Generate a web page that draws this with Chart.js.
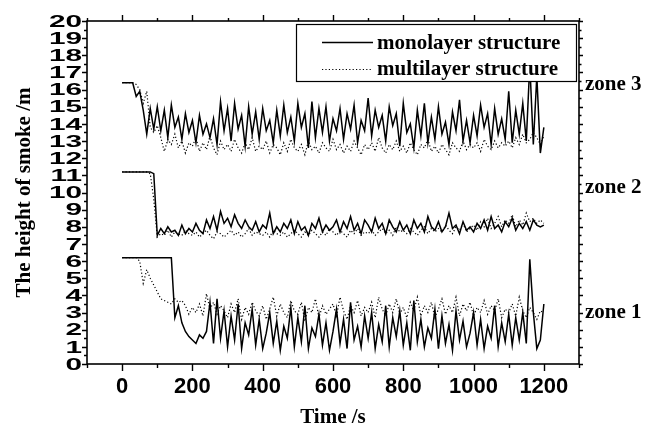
<!DOCTYPE html>
<html>
<head>
<meta charset="utf-8">
<script src="https://cdn.jsdelivr.net/npm/chart.js@4.4.1/dist/chart.umd.min.js"></script>
<style>
  html, body { margin: 0; padding: 0; background: #fff; }
</style>
</head>
<body>
<canvas id="chart" width="658" height="430"></canvas>
<script>
// sample times (s), one row per 100 s
const times = [
  0, 10, 20, 30, 40, 50, 60, 70, 80, 90,
  100, 110, 120, 130, 140, 150, 160, 170, 180, 190,
  200, 210, 220, 230, 240, 250, 260, 270, 280, 290,
  300, 310, 320, 330, 340, 350, 360, 370, 380, 390,
  400, 410, 420, 430, 440, 450, 460, 470, 480, 490,
  500, 510, 520, 530, 540, 550, 560, 570, 580, 590,
  600, 610, 620, 630, 640, 650, 660, 670, 680, 690,
  700, 710, 720, 730, 740, 750, 760, 770, 780, 790,
  800, 810, 820, 830, 840, 850, 860, 870, 880, 890,
  900, 910, 920, 930, 940, 950, 960, 970, 980, 990,
  1000, 1010, 1020, 1030, 1040, 1050, 1060, 1070, 1080, 1090,
  1100, 1110, 1120, 1130, 1140, 1150, 1160, 1170, 1180, 1190,
  1200
];

// zone 3
const z3Mono = [
  16.4, 16.4, 16.4, 16.4, 15.6, 15.9, 14.8, 13.4, 14.9, 13.7,
  15.0, 13.6, 14.8, 13.2, 15.1, 13.8, 14.4, 13.1, 14.6, 13.5,
  14.2, 12.9, 14.5, 13.4, 14.0, 13.2, 14.3, 12.8, 15.3, 13.6,
  14.9, 13.0, 15.2, 13.7, 14.5, 12.7, 15.0, 13.4, 14.7, 13.1,
  14.9, 13.6, 14.2, 12.9, 14.8, 13.3, 15.1, 13.5, 14.4, 13.0,
  15.2, 13.8, 14.6, 12.6, 15.3, 13.2, 14.9, 13.5, 15.0, 13.0,
  14.3, 13.6, 14.9, 13.1, 14.6, 13.7, 15.1, 12.9, 14.2, 13.6,
  15.5, 13.3, 14.8, 13.8, 14.5, 13.0, 15.0, 13.9, 14.6, 12.7,
  15.2, 13.5, 14.0, 12.6, 14.8, 13.3, 15.2, 12.9, 14.4, 13.1,
  15.0, 13.4, 14.1, 12.8, 14.7, 13.6, 15.4, 13.0, 14.2, 12.9,
  14.5, 13.3, 15.1, 13.8, 14.6, 12.8, 14.9, 13.4, 14.3, 13.1,
  15.9, 12.9, 14.8, 13.4, 15.2, 13.0, 17.5, 12.8, 16.8, 12.3,
  13.8
];
const z3Multi = [
  16.4, 16.4, 16.4, 16.4, 16.3, 16.0, 15.2, 15.9, 13.8, 13.5,
  13.9, 13.2, 12.4, 13.1, 12.8, 13.4, 12.6, 13.0, 12.3, 12.9,
  12.7, 13.2, 12.4, 12.9, 12.5, 13.3, 12.6, 12.2, 13.0, 12.5,
  12.8, 12.4, 13.1, 12.6, 12.3, 12.9, 12.5, 13.2, 12.4, 12.7,
  12.5, 13.0, 12.3, 12.8, 12.6, 12.2, 12.9, 12.4, 13.1, 12.6,
  12.4, 12.8, 12.2, 13.0, 12.5, 12.7, 12.3, 12.9, 12.6, 12.4,
  13.1, 12.5, 12.8, 12.3, 12.7, 12.4, 13.0, 12.6, 12.2, 12.8,
  12.5, 12.9, 12.4, 13.2, 12.6, 12.3, 12.8, 12.5, 13.0, 12.4,
  12.7, 12.3, 12.9, 12.5, 12.2, 12.8, 12.6, 13.1, 12.4, 12.7,
  12.3, 12.8, 12.5, 12.2, 12.9, 12.6, 12.4, 13.0, 12.5, 12.8,
  12.6, 12.9, 12.4, 13.1, 12.7, 12.5, 13.0, 12.6, 12.9, 12.7,
  13.0, 12.6, 13.2, 12.8, 13.4, 12.9, 13.1, 13.5, 13.2, 12.8,
  13.3
];

// zone 2
const z2Mono = [
  11.2, 11.2, 11.2, 11.2, 11.2, 11.2, 11.2, 11.2, 11.2, 11.1,
  7.5, 7.9, 7.6, 8.0, 7.7, 7.8, 7.5, 8.1, 7.6, 7.9,
  7.7, 8.2, 7.8, 7.6, 8.4, 7.9, 8.6, 7.8, 8.9, 8.2,
  8.5, 8.0, 8.7, 8.2, 7.9, 8.4, 8.0, 7.8, 8.3, 7.7,
  8.1, 7.9, 8.8, 7.6, 8.0, 7.7, 8.2, 7.9, 8.4, 7.6,
  8.3, 7.8, 8.0, 7.5, 8.2, 7.9, 8.5, 7.7, 8.1, 7.8,
  8.0, 8.4, 7.7, 8.3, 7.9, 8.6, 7.8, 8.2, 7.6, 8.4,
  8.1, 7.7, 8.5, 7.9, 8.2, 7.6, 8.4, 8.0, 7.7, 8.3,
  7.8, 8.1, 7.6, 8.4, 7.9, 8.2, 7.7, 8.6, 8.0, 7.8,
  8.3, 7.7, 8.0, 8.8, 7.9, 8.1, 7.6, 8.3, 7.8, 8.0,
  7.7, 8.2, 7.9, 8.4, 7.8, 8.6, 7.9, 8.1, 7.7, 8.3,
  8.0, 8.5, 7.8, 8.2, 7.9, 8.3, 7.8, 8.4, 8.1, 8.0,
  8.1
];
const z2Multi = [
  11.2, 11.2, 11.2, 11.2, 11.2, 11.2, 11.2, 11.2, 11.1, 9.6,
  7.4, 7.6, 7.5, 7.8, 7.4, 7.7, 7.6, 7.5, 7.8, 7.6,
  7.5, 7.7, 7.4, 7.6, 7.8, 7.5, 7.3, 7.7, 7.6, 7.4,
  7.6, 7.8, 7.5, 7.7, 7.4, 7.6, 7.9, 7.5, 7.7, 7.6,
  7.5, 7.7, 7.4, 7.8, 7.6, 7.5, 7.7, 7.4, 7.6, 7.8,
  7.6, 7.4, 7.7, 7.5, 7.8, 7.6, 7.4, 7.7, 7.5, 7.9,
  7.7, 7.5, 7.8, 7.6, 7.4, 7.8, 7.6, 7.9, 7.5, 7.7,
  7.6, 7.8, 7.5, 7.7, 7.9, 7.6, 7.8, 7.5, 8.0, 7.7,
  7.8, 7.6, 7.9, 7.7, 7.5, 7.8, 8.0, 7.6, 7.9, 7.7,
  7.9, 7.7, 8.1, 7.8, 7.6, 8.0, 7.8, 8.2, 7.7, 7.9,
  8.1, 7.8, 8.3, 8.0, 8.5, 7.9, 8.2, 8.6, 8.0, 8.4,
  8.2, 8.7, 8.0, 8.4, 8.1, 8.8, 8.3, 8.5, 8.2, 8.4,
  8.2
];

// zone 1
const z1Mono = [
  6.2, 6.2, 6.2, 6.2, 6.2, 6.2, 6.2, 6.2, 6.2, 6.2,
  6.2, 6.2, 6.2, 6.2, 6.2, 2.7, 3.4, 2.4, 1.9, 1.6,
  1.4, 1.2, 1.7, 1.5, 1.9, 3.6, 1.2, 3.8, 1.5, 3.1,
  1.0, 2.8, 1.4, 3.5, 0.9, 2.4, 1.7, 3.2, 1.1, 2.6,
  0.9, 1.8, 3.0, 1.2, 2.5, 0.8, 2.2, 1.5, 3.3, 1.0,
  2.7, 1.3, 3.4, 0.9, 2.1, 1.6, 2.9, 1.1, 2.4, 0.8,
  1.9, 3.2, 1.2, 2.6, 0.9, 3.6, 1.4, 2.2, 1.0, 2.8,
  1.5, 3.0, 0.9, 2.3, 1.3, 3.4, 1.0, 2.7, 1.6, 3.1,
  1.1, 2.4, 0.8, 3.7, 1.3, 2.6, 1.0, 2.1, 1.5, 3.2,
  0.9, 2.8, 1.2, 2.3, 0.8, 3.1, 1.4, 2.5, 1.0, 1.8,
  3.0, 1.1, 2.6, 0.9, 2.2, 1.5, 3.4, 1.0, 2.4, 1.3,
  2.9, 1.1, 2.7, 1.4, 3.0, 1.2, 6.1, 3.0, 0.9, 1.4,
  3.5
];
const z1Multi = [
  6.2, 6.2, 6.2, 6.2, 6.2, 6.0, 4.7, 5.5, 5.0, 4.6,
  4.2, 3.8, 3.7, 3.6, 3.5, 3.8, 3.6, 3.7, 3.4, 2.9,
  3.3, 3.0, 3.5, 2.8, 4.1, 3.2, 3.6, 2.9, 3.4, 3.1,
  2.7, 3.5, 3.0, 3.8, 2.6, 3.3, 2.9, 3.6, 3.1, 2.8,
  3.4, 2.6, 3.2, 3.9, 2.8, 3.5, 3.0, 2.7, 3.7, 3.1,
  2.9, 3.6, 2.5, 3.3, 3.0, 3.8, 2.7, 3.4, 2.9, 3.2,
  3.5, 2.8, 3.9, 3.1, 2.6, 3.4, 3.0, 3.7, 2.8, 3.3,
  3.0, 3.6, 2.7, 3.9, 3.2, 2.8, 3.5, 3.0, 3.8, 2.9,
  3.3, 2.7, 3.6, 3.1, 3.9, 2.8, 3.4, 3.0, 3.6, 2.7,
  3.2, 3.8, 2.9, 3.4, 3.0, 3.9, 2.8, 3.5, 3.1, 3.6,
  2.8, 3.3, 3.0, 3.7, 2.9, 3.4, 3.1, 3.8, 2.7, 3.2,
  3.0, 3.5, 2.8, 3.9, 3.1, 2.7, 3.3, 3.0, 2.6, 3.1,
  3.0
];

const yTickLabels = [0, 1, 2, 3, 4, 5, 6, 7, 8, 9, 10, 11, 12, 13, 14, 15, 16, 17, 18, 19, 20];
const xTickLabels = [0, 200, 400, 600, 800, 1000, 1200];
const zoneLabels = ['zone 1', 'zone 2', 'zone 3'];
const zoneLabelY = [2.7, 10, 16];
const seriesNames = ['monolayer structure', 'multilayer structure'];

const serif = '"Liberation Serif", "Times New Roman", serif';
const sans = '"Liberation Sans", Arial, sans-serif';

function pts(vals) {
  return times.map((t, i) => ({ x: t, y: vals[i] }));
}

const solid = { borderColor: '#000', borderWidth: 1.5, pointRadius: 0, tension: 0, fill: false };
const dotted = { borderColor: '#000', borderWidth: 1.2, borderDash: [1.2, 2.2], pointRadius: 0, tension: 0, fill: false };

// frame, ticks, y labels, legend and zone names
const decorations = {
  id: 'decorations',
  afterDraw(chart) {
    const { ctx, chartArea: a, scales: { x, y } } = chart;
    ctx.save();

    // legend box over the data
    const lx = 296, ly = 24, lw = 280, lh = 57;
    ctx.fillStyle = '#fff';
    ctx.fillRect(lx, ly, lw, lh);
    ctx.strokeStyle = '#000';
    ctx.lineWidth = 1.2;
    ctx.strokeRect(lx + 0.5, ly + 0.5, lw, lh);
    ctx.lineWidth = 1.5;
    ctx.beginPath();
    ctx.moveTo(322, 42.5); ctx.lineTo(373, 42.5);
    ctx.stroke();
    ctx.lineWidth = 1.2;
    ctx.setLineDash([1.2, 2.2]);
    ctx.beginPath();
    ctx.moveTo(322, 69.5); ctx.lineTo(373, 69.5);
    ctx.stroke();
    ctx.setLineDash([]);
    ctx.fillStyle = '#000';
    ctx.font = 'bold 21px ' + serif;
    ctx.textAlign = 'left';
    ctx.textBaseline = 'alphabetic';
    ctx.fillText(seriesNames[0], 377, 49);
    ctx.fillText(seriesNames[1], 377, 75);

    // frame
    ctx.lineWidth = 1.6;
    ctx.strokeRect(a.left, a.top, a.right - a.left, a.bottom - a.top);

    // ticks
    ctx.lineWidth = 1.4;
    ctx.beginPath();
    for (let v = -100; v <= 1300; v += 100) {
      const px = Math.round(x.getPixelForValue(v)) + 0.5;
      const major = v % 200 === 0;
      ctx.moveTo(px, a.bottom); ctx.lineTo(px, a.bottom + (major ? 7 : 4));
      ctx.moveTo(px, a.top); ctx.lineTo(px, a.top - (major ? 6 : 3));
    }
    for (let v = 0; v <= 20; v += 0.5) {
      const py = Math.round(y.getPixelForValue(v)) + 0.5;
      const major = Number.isInteger(v);
      ctx.moveTo(a.left, py); ctx.lineTo(a.left - (major ? 5 : 3), py);
      ctx.moveTo(a.right, py); ctx.lineTo(a.right + (major ? 4 : 2.5), py);
    }
    ctx.stroke();

    // y tick labels, wide bold digits
    ctx.font = 'bold 17px ' + sans;
    ctx.textAlign = 'right';
    ctx.textBaseline = 'middle';
    yTickLabels.forEach(v => {
      ctx.save();
      ctx.translate(a.left - 5, y.getPixelForValue(v) + 1);
      ctx.scale(1.75, 1);
      ctx.fillText(String(v), 0, 0);
      ctx.restore();
    });

    // zone names
    ctx.font = 'bold 21px ' + serif;
    ctx.textAlign = 'left';
    ctx.textBaseline = 'alphabetic';
    zoneLabels.forEach((s, i) => ctx.fillText(s, a.right + 6, y.getPixelForValue(zoneLabelY[i])));

    ctx.restore();
  }
};

new Chart(document.getElementById('chart'), {
  type: 'line',
  data: {
    datasets: [
      { label: seriesNames[1], data: pts(z3Multi), ...dotted },
      { label: seriesNames[1], data: pts(z2Multi), ...dotted },
      { label: seriesNames[1], data: pts(z1Multi), ...dotted },
      { label: seriesNames[0], data: pts(z3Mono), ...solid },
      { label: seriesNames[0], data: pts(z2Mono), ...solid },
      { label: seriesNames[0], data: pts(z1Mono), ...solid },
    ],
  },
  options: {
    responsive: false,
    animation: false,
    layout: { padding: { left: 0, right: 79, top: 21, bottom: 0 } },
    plugins: { legend: { display: false }, tooltip: { enabled: false } },
    scales: {
      x: {
        type: 'linear',
        min: -100,
        max: 1300,
        grid: { display: false },
        border: { display: false },
        ticks: {
          stepSize: 100,
          autoSkip: false,
          maxRotation: 0,
          padding: 2,
          color: '#000',
          font: { family: sans, size: 22, weight: 'bold' },
          callback: v => (xTickLabels.includes(v) ? String(v) : ''),
        },
        title: {
          display: true,
          text: 'Time /s',
          color: '#000',
          padding: 0,
          font: { family: serif, size: 21, weight: 'bold' },
        },
        afterFit: s => { s.height = 66; },
      },
      y: {
        min: 0,
        max: 20,
        grid: { display: false },
        border: { display: false },
        ticks: { display: false, stepSize: 1 },
        title: {
          display: true,
          text: 'The height of smoke /m',
          color: '#000',
          padding: { top: 12, bottom: 0 },
          font: { family: serif, size: 21, weight: 'bold' },
        },
        afterFit: s => { s.width = 87; },
      },
    },
  },
  plugins: [decorations],
});
</script>
</body>
</html>
